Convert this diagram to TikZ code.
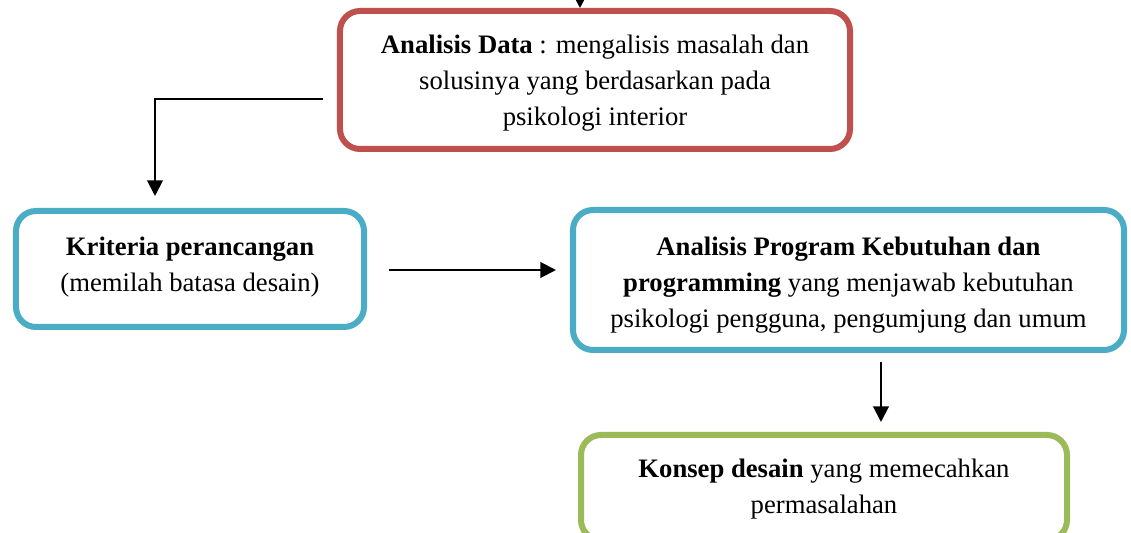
\documentclass[tikz,border=0pt]{standalone}
\usepackage{fontspec}
\setmainfont{Liberation Serif}
\usetikzlibrary{arrows.meta}
\definecolor{cred}{HTML}{C0504D}
\definecolor{cblue}{HTML}{4BACC6}
\definecolor{cgreen}{HTML}{9BBB59}
\tikzset{
  box/.style={draw=#1, line width=2.7pt, rounded corners=9pt, fill=white, inner sep=0pt, align=center},
  txt/.style={align=center, inner sep=0pt, font=\fontsize{12}{16.2}\selectfont},
  arr/.style={line width=0.9pt, -{Triangle[length=7pt,width=7pt]}},
}
\begin{document}
\begin{tikzpicture}[x=0.45pt,y=-0.45pt]
\useasboundingbox (0,0) rectangle (1131,533);
\clip (0,0) rectangle (1131,533);
% boxes
\node[box=cred, minimum width=229.5pt, minimum height=62.1pt] (red) at (595,80) {};
\node[txt] (redt) at (595,83) {\textbf{Analisis Data} : mengalisis masalah dan\\ solusinya yang berdasarkan pada\\ psikologi interior};
\node[box=cblue, minimum width=156.6pt, minimum height=52.2pt] (krit) at (190,269) {};
\node[txt] (kritt) at (190,267) {\textbf{Kriteria perancangan}\\(memilah batasa desain)};
\node[box=cblue, minimum width=247.95pt, minimum height=63pt] (prog) at (848.5,280) {};
\node[txt] (progt) at (848.5,285) {\textbf{Analisis Program Kebutuhan dan}\\ \textbf{programming} yang menjawab kebutuhan\\ psikologi pengguna, pengumjung dan umum};
\node[box=cgreen, minimum width=218.7pt, minimum height=47.25pt] (kon) at (824,487.5) {};
\node[txt] (kont) at (824,489.5) {\textbf{Konsep desain} yang memecahkan\\ permasalahan};
% connector end points
\coordinate (topin) at (580,-10);
\coordinate (topout) at (580,8);
\coordinate (a1) at (323,99);
\coordinate (a2) at (155,196);
\coordinate (b1) at (389,270);
\coordinate (b2) at (556,270);
\coordinate (c1) at (881,362);
\coordinate (c2) at (881,422);
% connectors
\draw[line width=0.9pt, -{Triangle[length=5pt,width=5pt]}] (topin) -- (topout);
\draw[arr] (a1) -| (a2);
\draw[arr] (b1) -- (b2);
\draw[arr] (c1) -- (c2);
\end{tikzpicture}
\end{document}
